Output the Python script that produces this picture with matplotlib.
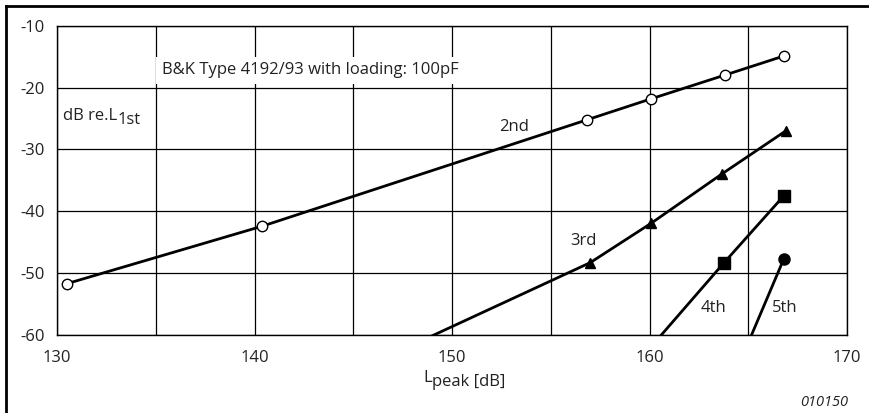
import matplotlib
matplotlib.use("Agg")
import matplotlib.pyplot as plt
from matplotlib.lines import Line2D

plt.rcParams['font.family'] = ['Open Sans', 'DejaVu Sans']
plt.rcParams['axes.unicode_minus'] = False

# 2nd harmonic (open circles)
x_2nd = [130.5, 140.4, 156.85, 160.1, 163.8, 166.8]
y_2nd = [-51.7, -42.4, -25.2, -21.8, -18.0, -14.9]

# 3rd harmonic (triangles), first point has no marker (runs off the bottom)
x_3rd = [148.0, 157.0, 160.1, 163.65, 166.9]
y_3rd = [-61.6, -48.3, -41.9, -34.0, -27.0]

# 4th harmonic (squares)
x_4th = [160.0, 163.75, 166.8]
y_4th = [-62.2, -48.4, -37.5]

# 5th harmonic (filled circle)
x_5th = [164.9, 166.8]
y_5th = [-62.0, -47.7]

x_ticks = [130, 140, 150, 160, 170]
x_minor = [135, 145, 155, 165]
y_ticks = [-60, -50, -40, -30, -20, -10]

TXT = '#222222'
FS = 12

fig = plt.figure(figsize=(8.69, 4.13), dpi=100)
ax = fig.add_axes([57 / 869, 78 / 413, 790 / 869, 309.3 / 413])

ax.plot(x_2nd, y_2nd, color='black', lw=2, marker='o', ms=7.5,
        mfc='white', mec='black', mew=1, zorder=3)
ax.plot(x_3rd, y_3rd, color='black', lw=2, marker='^', ms=7,
        markevery=[1, 2, 3, 4], zorder=3)
ax.plot(x_4th, y_4th, color='black', lw=2, marker='s', ms=8,
        markevery=[1, 2], zorder=3)
ax.plot(x_5th, y_5th, color='black', lw=2, marker='o', ms=8,
        markevery=[1], zorder=3)

ax.set_xlim(130, 170)
ax.set_ylim(-60, -10)
ax.set_xticks(x_ticks)
ax.set_xticks(x_minor, minor=True)
ax.set_yticks(y_ticks)
ax.tick_params(which='both', length=0, labelsize=FS, colors=TXT)
ax.tick_params(axis='x', pad=11)
ax.tick_params(axis='y', pad=9)
ax.grid(which='both', color='black', lw=0.9)
for s in ax.spines.values():
    s.set_linewidth(1)
ax.set_axisbelow(True)

ax.text(135.3, -17.2, 'B&K Type 4192/93 with loading: 100pF', fontsize=FS,
        va='center', ha='left', color=TXT,
        bbox=dict(facecolor='white', edgecolor='none', pad=4))

# "dB re.L" with a lowered "1st"
t = ax.text(130.3, -24.6, 'dB re.L', fontsize=FS, va='center', ha='left', color=TXT)
ax.annotate('1st', xy=(1, 0), xycoords=t, xytext=(0, -3),
            textcoords='offset points', fontsize=FS, va='bottom', ha='left', color=TXT)

ax.text(152.4, -26.4, '2nd', fontsize=FS, va='center', color=TXT)
ax.text(156.0, -44.8, '3rd', fontsize=FS, va='center', color=TXT)
ax.text(162.6, -55.7, '4th', fontsize=FS, va='center', color=TXT)
ax.text(166.2, -55.7, '5th', fontsize=FS, va='center', color=TXT)

# x label: "L" with lowered "peak [dB]"
xl = fig.text(423 / 869, 1 - 378 / 413, 'L', fontsize=FS, ha='left', va='center', color=TXT)
fig.add_artist(plt.Annotation('peak [dB]', xy=(1, 0), xycoords=xl, xytext=(0, -3),
                              textcoords='offset points', fontsize=FS, va='bottom',
                              ha='left', color=TXT))

fig.text(848 / 869, 1 - 402 / 413, '010150', fontsize=10.5, style='italic',
         ha='right', va='center', color=TXT)

# frame around the figure (only top and left are visible)
fig.add_artist(Line2D([6 / 869, 1], [1 - 6 / 413, 1 - 6 / 413],
                      transform=fig.transFigure, color='black', lw=2))
fig.add_artist(Line2D([6 / 869, 6 / 869], [0, 1 - 6 / 413],
                      transform=fig.transFigure, color='black', lw=2))

fig.savefig('out.png', dpi=100)
